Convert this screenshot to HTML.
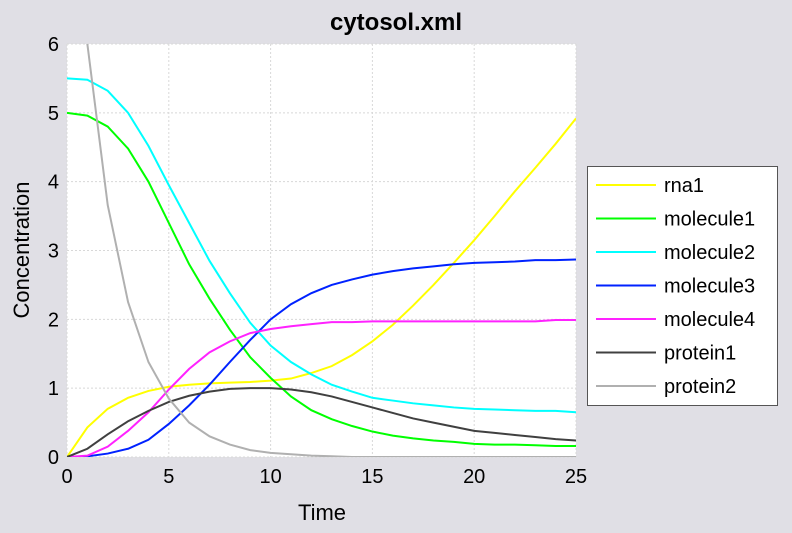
<!DOCTYPE html>
<html><head><meta charset="utf-8"><style>
body{margin:0;background:#e0dfe5;font-family:"Liberation Sans",sans-serif;}
svg{display:block}
</style></head><body>
<svg width="792" height="533" id="c">
<rect x="0" y="0" width="792" height="533" fill="#e0dfe5"/>
<text x="396" y="30" text-anchor="middle" font-size="24" font-weight="bold">cytosol.xml</text>
<rect x="67" y="44" width="509" height="413" fill="#fff"/>
<clipPath id="cp"><rect x="67" y="44" width="509" height="413"/></clipPath>
<g id="grid"></g><g id="series" clip-path="url(#cp)"></g><g id="axes"></g>
<text x="322" y="520" text-anchor="middle" font-size="22">Time</text>
<text transform="translate(29,250) rotate(-90)" text-anchor="middle" font-size="22">Concentration</text>
<g id="legend"></g>
</svg>
<script>
const times=[0,1,2,3,4,5,6,7,8,9,10,11,12,13,14,15,16,17,18,19,20,21,22,23,24,25];
const rna1=[0,0.43,0.7,0.86,0.96,1.02,1.05,1.07,1.08,1.09,1.11,1.14,1.22,1.32,1.48,1.68,1.92,2.2,2.5,2.82,3.15,3.5,3.86,4.2,4.55,4.92];
const molecule1=[5.0,4.96,4.8,4.48,4.0,3.4,2.8,2.3,1.85,1.45,1.15,0.88,0.68,0.55,0.45,0.37,0.31,0.27,0.24,0.22,0.19,0.18,0.18,0.17,0.16,0.16];
const molecule2=[5.5,5.48,5.32,5.0,4.52,3.95,3.4,2.85,2.38,1.95,1.62,1.38,1.2,1.05,0.95,0.86,0.82,0.78,0.75,0.72,0.7,0.69,0.68,0.67,0.67,0.65];
const molecule3=[0,0.01,0.05,0.12,0.25,0.48,0.75,1.05,1.38,1.7,2.0,2.22,2.38,2.5,2.58,2.65,2.7,2.74,2.77,2.8,2.82,2.83,2.84,2.86,2.86,2.87];
const molecule4=[0,0.02,0.15,0.38,0.65,0.98,1.28,1.52,1.68,1.8,1.86,1.9,1.93,1.96,1.96,1.97,1.97,1.97,1.97,1.97,1.97,1.97,1.97,1.97,1.99,1.99];
const protein1=[0,0.12,0.33,0.52,0.67,0.8,0.89,0.95,0.99,1.0,1.0,0.98,0.94,0.88,0.8,0.72,0.64,0.56,0.5,0.44,0.38,0.35,0.32,0.29,0.26,0.24];
const protein2=[9,6.0,3.66,2.25,1.38,0.85,0.5,0.3,0.18,0.1,0.06,0.04,0.02,0.01,0,0,0,0,0,0,0,0,0,0,0,0];
const seriesNames=["rna1","molecule1","molecule2","molecule3","molecule4","protein1","protein2"];
const seriesData=[rna1,molecule1,molecule2,molecule3,molecule4,protein1,protein2];
const colors=["#ffff00","#00ff00","#00ffff","#0022ff","#ff22ff","#404040","#b0b0b0"];
const xTicks=[0,5,10,15,20,25];
const yTicks=[0,1,2,3,4,5,6];
const NS="http://www.w3.org/2000/svg";
const X=v=>67+v*(509/25), Y=v=>457-v*(413/6);
function mk(t,a,p){const e=document.createElementNS(NS,t);for(const k in a)e.setAttribute(k,a[k]);p.appendChild(e);return e;}
const grid=document.getElementById('grid'),axes=document.getElementById('axes'),ser=document.getElementById('series'),leg=document.getElementById('legend');
xTicks.forEach(t=>{
 const l=mk('line',{x1:X(t),x2:X(t),y1:44,y2:457,stroke:'#d8d8d8','stroke-dasharray':'2,2'},grid);
 
 
 const tx=mk('text',{x:X(t),y:483,'text-anchor':'middle','font-size':20},axes);tx.textContent=t;
 
 
});
yTicks.forEach(t=>{
 const l=mk('line',{x1:67,x2:576,y1:Y(t),y2:Y(t),stroke:'#d8d8d8','stroke-dasharray':'2,2'},grid);
 
 
 const tx=mk('text',{x:59,y:Y(t)+7,'text-anchor':'end','font-size':20},axes);tx.textContent=t;
 
 
});
seriesData.forEach((d,i)=>{
 const p=mk('polyline',{points:d.map((v,j)=>X(times[j])+','+Y(v)).join(' '),fill:'none',stroke:colors[i],'stroke-width':2},ser);
 
 
});
const box=mk('rect',{x:587.5,y:166.5,width:190,height:239,fill:'#fff',stroke:'#555'},leg);


seriesNames.forEach((n,i)=>{
 const y=185+i*33.5;
 const l=mk('line',{x1:596,x2:656,y1:y,y2:y,stroke:colors[i],'stroke-width':2},leg);
 
 
 const t=mk('text',{x:664,y:y+7,'font-size':20},leg);t.textContent=n;
 
 
});
</script>
</body></html>
